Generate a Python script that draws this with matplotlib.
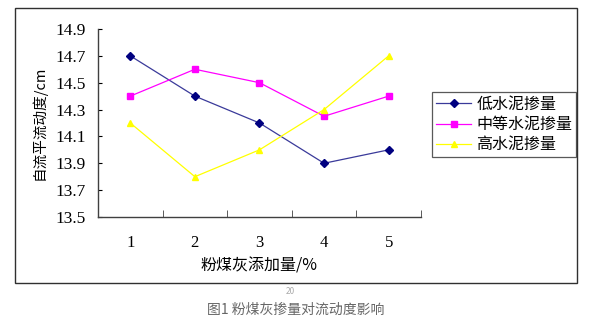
import matplotlib.pyplot as plt
from matplotlib.patches import Rectangle

plt.rcParams['font.family'] = ['Noto Sans CJK SC', 'DejaVu Sans']

# Flow test data
fly_ash = [1, 2, 3, 4, 5]
low_cement = [14.7, 14.4, 14.2, 13.9, 14.0]
mid_cement = [14.4, 14.6, 14.5, 14.25, 14.4]
high_cement = [14.2, 13.8, 14.0, 14.3, 14.7]
series_names = ['低水泥掺量', '中等水泥掺量', '高水泥掺量']
y_ticks = [13.5, 13.7, 13.9, 14.1, 14.3, 14.5, 14.7, 14.9]

fig = plt.figure(figsize=(5.92, 3.26), dpi=100)
ax = fig.add_axes([0.1655, 0.3344, 0.5456, 0.5767])

ax.plot(fly_ash, low_cement, color='#3a3a9a', lw=0.9, marker='D', ms=4,
        mfc='#000080', mec='#000080', label=series_names[0])
ax.plot(fly_ash, mid_cement, color='#ff00ff', lw=0.9, marker='s', ms=4.5,
        mfc='#ff00ff', mec='#ff00ff', label=series_names[1])
ax.plot(fly_ash, high_cement, color='#ffff00', lw=0.9, marker='^', ms=5,
        mfc='#ffff00', mec='#ffff00', label=series_names[2])

ax.set_xlim(0.5, 5.5)
ax.set_ylim(13.5, 14.9)
ax.set_yticks(y_ticks)
ax.set_yticklabels(['%.1f' % v for v in y_ticks], family='Liberation Serif', fontsize=12.5)
ax.set_xticks(fly_ash)
ax.set_xticklabels([str(v) for v in fly_ash], family='Liberation Serif', fontsize=12)
ax.tick_params(axis='x', length=0, pad=13)
ax.tick_params(axis='y', length=3, direction='in', pad=9)
# category separators on the x axis
ax.set_xticks([1.5, 2.5, 3.5, 4.5, 5.5], minor=True)
ax.tick_params(axis='x', which='minor', length=5, direction='in', color='#404040')

for side in ['top', 'right']:
    ax.spines[side].set_visible(False)
for side in ['left', 'bottom']:
    ax.spines[side].set_color('#404040')
    ax.spines[side].set_linewidth(1.0)

ax.set_ylabel('自流平流动度/cm', fontsize=10.5, labelpad=6)
ax.set_xlabel('粉煤灰添加量/%', fontsize=11.5, labelpad=5)

leg = ax.legend(loc='upper left', bbox_to_anchor=(1.035, 0.665), fontsize=11.5,
                frameon=True, fancybox=False, borderpad=0.25, labelspacing=0.2,
                handlelength=2.2, handletextpad=0.3, borderaxespad=0)
leg.get_frame().set_edgecolor('#303030')
leg.get_frame().set_linewidth(0.9)

# outer chart frame
fig.patches.append(Rectangle((15 / 592, 1 - 283 / 326), 562 / 592, 275 / 326,
                             transform=fig.transFigure, fill=False,
                             ec='#303030', lw=1.0))

fig.text(290 / 592, 1 - 291 / 326, '20', ha='center', va='center',
         fontsize=6, color='#aaaaaa')
fig.text(296 / 592, 1 - 310 / 326, '图1 粉煤灰掺量对流动度影响', ha='center',
         va='center', fontsize=10, color='#666666')

fig.savefig('out.png', dpi=100)
